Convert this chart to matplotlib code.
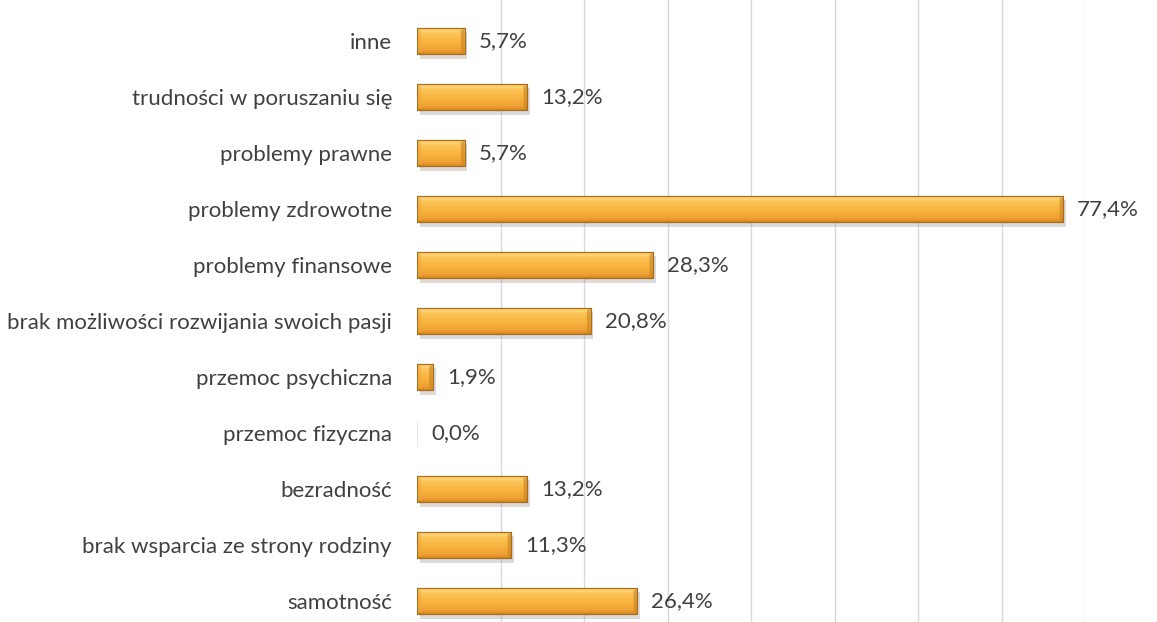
import numpy as np
import matplotlib
matplotlib.use("Agg")
import matplotlib.pyplot as plt
import matplotlib.patheffects as pe
from matplotlib.colors import LinearSegmentedColormap

categories = ["samotność", "brak wsparcia ze strony rodziny", "bezradność",
              "przemoc fizyczna", "przemoc psychiczna",
              "brak możliwości rozwijania swoich pasji", "problemy finansowe",
              "problemy zdrowotne", "problemy prawne",
              "trudności w poruszaniu się", "inne"]
values = [26.4, 11.3, 13.2, 0.0, 1.9, 20.8, 28.3, 77.4, 5.7, 13.2, 5.7]
value_labels = ["26,4%", "11,3%", "13,2%", "0,0%", "1,9%", "20,8%", "28,3%",
                "77,4%", "5,7%", "13,2%", "5,7%"]

plt.rcParams['font.family'] = ['Lato', 'DejaVu Sans']

fig = plt.figure(figsize=(11.57, 6.22), dpi=100)
ax = fig.add_axes([417/1157, 0, (1085-417)/1157, 1])

y = np.arange(len(categories))
bars = ax.barh(y, values, height=0.48, color='#F7AE3B', edgecolor='#A86C1E',
               linewidth=0.8, zorder=3)

grad = np.linspace(0, 1, 64).reshape(-1, 1)
cmap = LinearSegmentedColormap.from_list(
    'g', [(0, '#D38620'), (0.12, '#EDA032'), (0.4, '#F8B13E'), (0.75, '#FBC255'),
          (0.88, '#FDD577'), (1, '#EFB04A')])
for b in bars:
    w = b.get_width()
    if w <= 0:
        b.set_facecolor('none')
        b.set_edgecolor('#E6E6E6')
        continue
    b.set_path_effects([pe.SimplePatchShadow(offset=(2, -3), shadow_rgbFace='#8a8a8a', alpha=0.3), pe.Normal()])
    x0, y0 = b.get_x(), b.get_y()
    h = b.get_height()
    im = ax.imshow(grad, extent=[x0, x0 + w, y0, y0 + h], origin='lower',
                   cmap=cmap, aspect='auto', zorder=4, interpolation='bicubic')
    im.set_clip_path(b)
    cap = min(0.45, w * 0.25)
    ax.fill([x0 + w - cap, x0 + w, x0 + w, x0 + w - cap],
            [y0 + h * 0.12, y0, y0 + h, y0 + h * 0.88], color='#C98220', alpha=0.6,
            zorder=5, lw=0)
    ax.fill([x0, x0 + cap, x0 + cap, x0],
            [y0, y0 + h * 0.12, y0 + h * 0.88, y0 + h], color='#F0A63A', alpha=0.6,
            zorder=5, lw=0)
    ax.barh(b.get_y() + h / 2, w, left=x0, height=h, fill=False,
            edgecolor='#A86C1E', linewidth=0.8, zorder=6)

for yi, v, lab in zip(y, values, value_labels):
    ax.annotate(lab, (v, yi), xytext=(10, 0), textcoords='offset points',
                ha='left', va='center', fontsize=16, color='#404040',
                annotation_clip=False, zorder=7)

ax.set_xlim(0, 80)
ax.set_ylim(-0.375, 10 + 41/56)
ax.set_xticks(np.arange(10, 81, 10))
ax.xaxis.grid(True, color='#D9D9D9', linewidth=1, zorder=0)
ax.set_axisbelow(True)
ax.tick_params(axis='x', length=0, labelbottom=False)
ax.set_yticks(y)
ax.set_yticklabels(categories, fontsize=16, color='#404040')
ax.tick_params(axis='y', length=0, pad=18)
for s in ax.spines.values():
    s.set_visible(False)

fig.savefig('out.png', dpi=100)
